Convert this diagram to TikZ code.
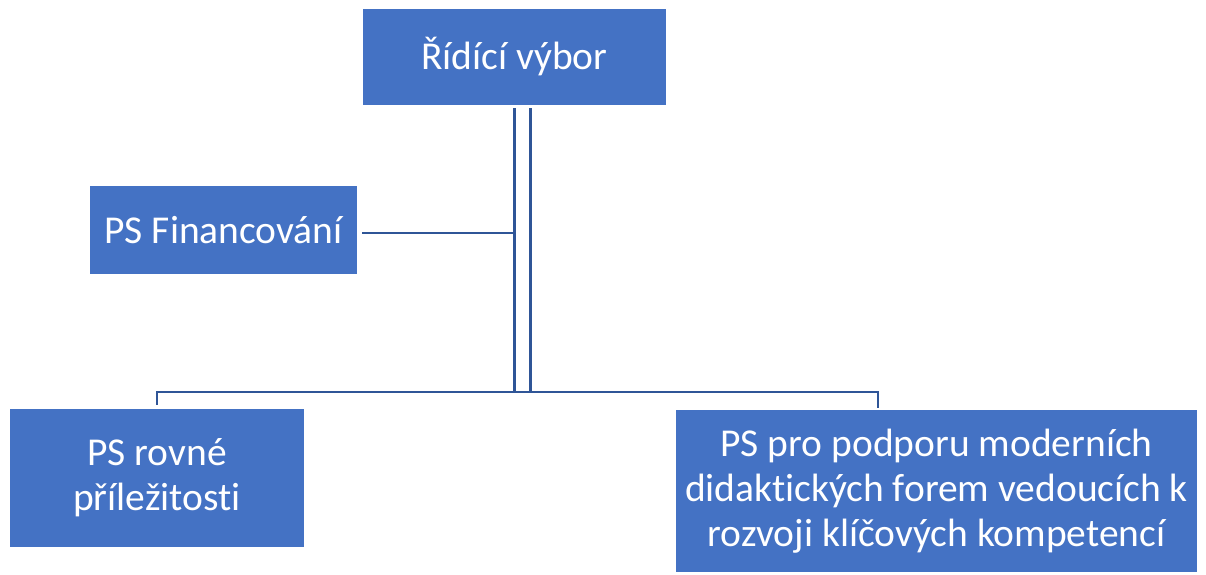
\documentclass[tikz,border=0pt]{standalone}
\usepackage{fontspec}
\setmainfont{Carlito}[Ligatures=NoCommon]

\begin{document}
\begin{tikzpicture}[x=1pt, y=-1pt,
  box/.style={fill=boxblue, text=white, inner sep=0pt, align=center,
    font=\fontsize{39.5}{45}\selectfont},
  conn/.style={draw=lineblue, line width=2.7pt}]
\definecolor{boxblue}{HTML}{4472C4}
\definecolor{lineblue}{HTML}{2F5597}
\useasboundingbox (0,0) rectangle (1206,574);
\node[box, minimum width=303pt, minimum height=96pt] (vybor) at (514.5,57) {Řídící výbor};
\node[box, minimum width=267pt, minimum height=88pt] (fin) at (223.5,230) {PS Financování};
\node[box, minimum width=294pt, minimum height=138pt] (rovne) at (157,478) {PS rovné\\příležitosti};
\node[box, minimum width=521pt, minimum height=162pt] (didakt) at (936.5,491)
  {PS pro podporu moderních\\didaktických forem vedoucích k\\rozvoji klíčových kompetencí};
\coordinate (busL) at (157,392);
\coordinate (busR) at (878,392);
% double line from the top box
\draw[conn] ([yshift=-3pt]vybor.south) -- (vybor.south |- busL);
\draw[conn] ([xshift=16pt,yshift=-3pt]vybor.south) -- ([xshift=16pt]vybor.south |- busL);
\draw[conn] ([xshift=5pt,yshift=-3pt]fin.east) -- ([yshift=-3pt]fin.east -| vybor.south);
% bus to the bottom boxes
\draw[conn] ([yshift=4pt]rovne.north) -- (busL) -- (busR) -- ([yshift=2pt]didakt.north -| busR);
\end{tikzpicture}
\end{document}
